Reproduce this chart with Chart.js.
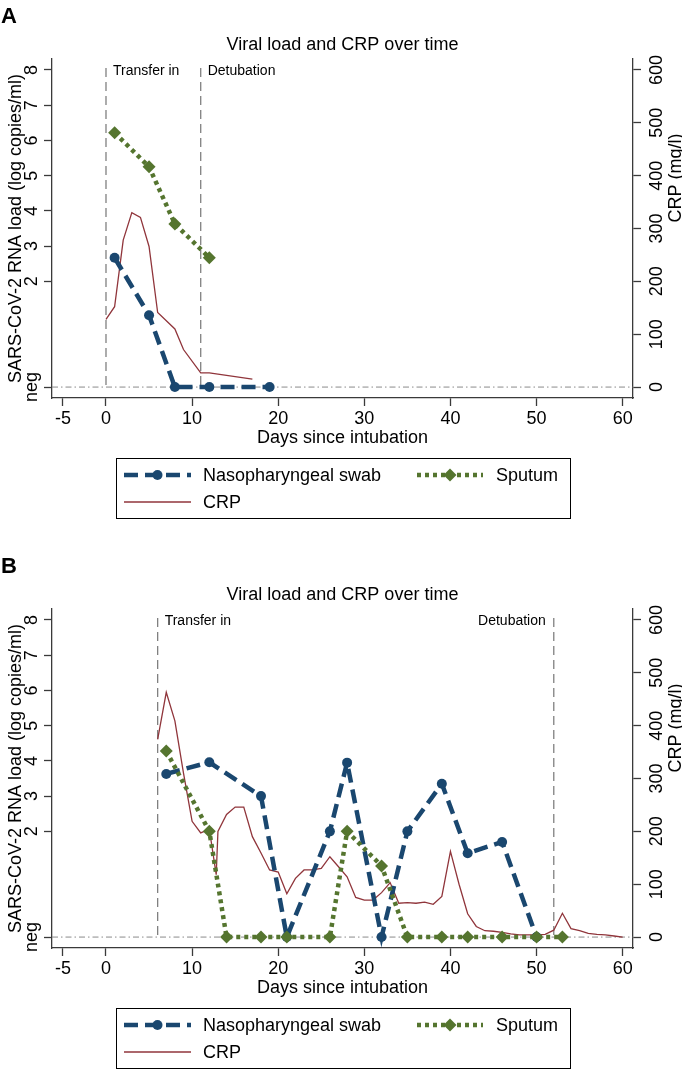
<!DOCTYPE html>
<html>
<head>
<meta charset="utf-8">
<script src="https://cdn.jsdelivr.net/npm/chart.js@4/dist/chart.umd.min.js"></script>
<style>
  body { margin: 0; background: #fff; }
  canvas { display: block; }
</style>
</head>
<body>
<canvas id="chartA" width="682" height="550"></canvas>
<canvas id="chartB" width="682" height="519"></canvas>
<script>
// "neg" sits one unit below the lowest log tick
const NEG = -1;

// --- axis ticks ---
const dayTicks = [-5, 0, 10, 20, 30, 40, 50, 60];
const loadTicks = [NEG, 2, 3, 4, 5, 6, 7, 8];
const loadTickLabels = ["neg", "2", "3", "4", "5", "6", "7", "8"];
const crpTicks = [0, 100, 200, 300, 400, 500, 600];

// --- panel A ---
const swabDaysA = [1, 5, 8, 12, 19];
const swabLoadA = [2.67, 1.04, NEG, NEG, NEG];
const sputumDaysA = [1, 5, 8, 12];
const sputumLoadA = [6.22, 5.25, 3.63, 2.67];
const crpDaysA = [0, 1, 2, 3, 4, 5, 6, 8, 9, 11, 12, 17];
const crpA = [128, 152, 278, 330, 321, 266, 141, 110, 71, 27, 27, 15];
const eventDaysA = [0, 11];
const eventLabelsA = ["Transfer in", "Detubation"];

// --- panel B ---
const swabDaysB = [7, 12, 18, 21, 26, 28, 32, 35, 39, 42, 46, 50];
const swabLoadB = [3.63, 3.96, 3.0, NEG, 2.0, 3.95, NEG, 2.0, 3.35, 1.38, 1.70, NEG];
const sputumDaysB = [7, 12, 14, 18, 21, 26, 28, 32, 35, 39, 42, 46, 50, 53];
const sputumLoadB = [4.28, 2.0, NEG, NEG, NEG, NEG, 2.0, 1.02, NEG, NEG, NEG, NEG, NEG, NEG];
const crpDaysB = [6, 7, 8, 9, 10, 11, 12, 12.8, 13, 14, 15, 16, 17, 18, 19, 20,
  21, 22, 23, 24, 25, 26, 27, 28, 29, 30, 31, 32, 33, 34, 35, 36, 37, 38, 39, 40,
  41, 42, 43, 44, 45, 46, 47, 48, 49, 50, 51, 52, 53, 54, 55, 56, 57, 58, 59, 60];
const crpB = [374, 463, 409, 310, 219, 197, 204, 118, 200, 232, 246, 246, 190, 159, 127, 123,
  82, 111, 127, 127, 130, 152, 133, 114, 75, 70, 70, 84, 103, 64, 65, 64, 66, 62, 77, 162,
  100, 44, 20, 12, 11, 9, 6, 4, 4, 4, 5, 13, 45, 16, 12, 7, 5, 4, 2, 0];
const eventDaysB = [6, 52];
const eventLabelsB = ["Transfer in", "Detubation"];

const FONT = '"Liberation Sans", Arial, Helvetica, sans-serif';
const NAVY = "#1a476f";
const GREEN = "#55752f";
const MAROON = "#90353b";
const AXIS = "#3a3a3a";

Chart.defaults.font.family = FONT;
Chart.defaults.font.size = 18;
Chart.defaults.color = "#000";

const pts = (xs, ys) => xs.map((x, i) => ({ x, y: ys[i] }));
const fixTicks = values => scale => { scale.ticks = values.map(v => ({ value: v })); };

// stata-like decorations: reference lines, rotated labels, titles, boxed legend
const decor = {
  id: "decor",
  beforeDatasetsDraw(chart, args, o) {
    const { ctx, chartArea: a, scales: { x, y } } = chart;
    const yNeg = y.getPixelForValue(NEG);
    const yTop = y.getPixelForValue(8) - 2;
    ctx.save();
    ctx.strokeStyle = "#8a8a8a";
    ctx.lineWidth = 1;
    ctx.setLineDash([6, 3, 1.5, 3]);
    ctx.beginPath();
    ctx.moveTo(a.left, yNeg);
    ctx.lineTo(a.right, yNeg);
    ctx.stroke();

    ctx.strokeStyle = "#808080";
    ctx.lineWidth = 1.3;
    ctx.setLineDash([9, 5]);
    o.eventDays.forEach(d => {
      const px = x.getPixelForValue(d);
      ctx.beginPath();
      ctx.moveTo(px, yTop);
      ctx.lineTo(px, yNeg);
      ctx.stroke();
    });
    ctx.restore();
  },
  afterDraw(chart, args, o) {
    const { ctx, chartArea: a, scales: { x, y, y2 } } = chart;
    const midX = (a.left + a.right) / 2;
    ctx.save();
    ctx.fillStyle = "#000";
    ctx.textBaseline = "alphabetic";

    ctx.font = `bold 22px ${FONT}`;
    ctx.textAlign = "left";
    ctx.fillText(o.letter, 1, 23);

    ctx.font = `18px ${FONT}`;
    ctx.textAlign = "center";
    ctx.fillText(o.title, midX, 50);
    ctx.fillText(o.xTitle, midX, a.bottom + 45);

    const rot = (text, px, py) => {
      ctx.save();
      ctx.translate(px, py);
      ctx.rotate(-Math.PI / 2);
      ctx.fillText(text, 0, 0);
      ctx.restore();
    };
    loadTicks.forEach((v, i) => rot(loadTickLabels[i], 37, y.getPixelForValue(v)));
    crpTicks.forEach(v => rot(String(v), 662, y2.getPixelForValue(v)));
    rot(o.yTitle, 21, (a.top + a.bottom) / 2);
    rot(o.y2Title, 681, 178);

    // event labels
    ctx.font = `14px ${FONT}`;
    ctx.textBaseline = "middle";
    const yLab = y.getPixelForValue(8) + 1;
    o.eventDays.forEach((d, i) => {
      const px = x.getPixelForValue(d);
      const right = o.labelSide[i] === "right";
      ctx.textAlign = right ? "left" : "right";
      ctx.fillText(o.eventLabels[i], right ? px + 7 : px - 8, yLab);
    });

    // legend box
    const top = a.bottom + 60;
    ctx.strokeStyle = "#000";
    ctx.lineWidth = 1;
    ctx.setLineDash([]);
    ctx.strokeRect(116.5, top + 0.5, 454, 60);
    ctx.font = `18px ${FONT}`;
    ctx.textAlign = "left";
    const items = [
      { ds: 0, x1: 124, x2: 191, tx: 203, y: top + 17 },
      { ds: 1, x1: 417, x2: 483, tx: 496, y: top + 17 },
      { ds: 2, x1: 124, x2: 191, tx: 203, y: top + 44 }
    ];
    items.forEach(it => {
      const ds = chart.data.datasets[it.ds];
      ctx.save();
      ctx.strokeStyle = ds.borderColor;
      ctx.lineWidth = ds.borderWidth;
      ctx.setLineDash(ds.borderDash || []);
      ctx.beginPath();
      ctx.moveTo(it.x1, it.y);
      ctx.lineTo(it.x2, it.y);
      ctx.stroke();
      if (ds.pointRadius > 0) {
        ctx.setLineDash([]);
        ctx.fillStyle = ds.backgroundColor;
        Chart.helpers.drawPoint(ctx, { pointStyle: ds.pointStyle, radius: ds.pointRadius, rotation: 0, borderWidth: 0 }, (it.x1 + it.x2) / 2, it.y);
      }
      ctx.restore();
      ctx.fillText(ds.label, it.tx, it.y + 1);
    });
    ctx.restore();
  }
};

function axisStyle() {
  return {
    grid: { drawOnChartArea: false, tickLength: 8, color: AXIS, tickWidth: 1.3 },
    border: { color: AXIS, width: 1.3 }
  };
}

function makeChart(canvasId, letter, p) {
  return new Chart(document.getElementById(canvasId), {
    type: "line",
    data: {
      datasets: [
        {
          label: "Nasopharyngeal swab",
          data: pts(p.swabDays, p.swabLoad),
          yAxisID: "y",
          borderColor: NAVY,
          backgroundColor: NAVY,
          borderWidth: 4.5,
          borderDash: [14, 7],
          pointStyle: "circle",
          pointRadius: 5,
          pointBorderWidth: 0,
          order: 2
        },
        {
          label: "Sputum",
          data: pts(p.sputumDays, p.sputumLoad),
          yAxisID: "y",
          borderColor: GREEN,
          backgroundColor: GREEN,
          borderWidth: 4.5,
          borderDash: [4, 4],
          pointStyle: "rectRot",
          pointRadius: 6.5,
          pointBorderWidth: 0,
          order: 1
        },
        {
          label: "CRP",
          data: pts(p.crpDays, p.crp),
          yAxisID: "y2",
          borderColor: MAROON,
          backgroundColor: MAROON,
          borderWidth: 1.3,
          pointRadius: 0,
          order: 3
        }
      ]
    },
    options: {
      responsive: false,
      animation: false,
      events: [],
      layout: { padding: { top: 59, left: 0, right: 0, bottom: 0 } },
      plugins: {
        legend: { display: false },
        tooltip: { enabled: false },
        decor: {
          letter,
          title: "Viral load and CRP over time",
          xTitle: "Days since intubation",
          yTitle: "SARS-CoV-2 RNA load (log copies/ml)",
          y2Title: "CRP (mg/l)",
          eventDays: p.eventDays,
          eventLabels: p.eventLabels,
          labelSide: p.labelSide
        }
      },
      scales: {
        x: {
          type: "linear",
          min: -6.27,
          max: 61.2,
          afterBuildTicks: fixTicks(dayTicks),
          afterFit: s => { s.height = s.chart.height - 398; },
          ticks: { padding: 2, maxRotation: 0, autoSkip: false, font: { size: 18 } },
          ...axisStyle()
        },
        y: {
          position: "left",
          min: -1.31,
          max: 8.31,
          afterBuildTicks: fixTicks(loadTicks),
          afterFit: s => { s.width = 52; },
          ticks: { display: false },
          ...axisStyle()
        },
        y2: {
          position: "right",
          min: -20.7,
          max: 620.7,
          afterBuildTicks: fixTicks(crpTicks),
          afterFit: s => { s.width = 49; },
          ticks: { display: false },
          ...axisStyle()
        }
      }
    },
    plugins: [decor]
  });
}

makeChart("chartA", "A", {
  swabDays: swabDaysA, swabLoad: swabLoadA,
  sputumDays: sputumDaysA, sputumLoad: sputumLoadA,
  crpDays: crpDaysA, crp: crpA,
  eventDays: eventDaysA, eventLabels: eventLabelsA, labelSide: ["right", "right"]
});

makeChart("chartB", "B", {
  swabDays: swabDaysB, swabLoad: swabLoadB,
  sputumDays: sputumDaysB, sputumLoad: sputumLoadB,
  crpDays: crpDaysB, crp: crpB,
  eventDays: eventDaysB, eventLabels: eventLabelsB, labelSide: ["right", "left"]
});
</script>
</body>
</html>
